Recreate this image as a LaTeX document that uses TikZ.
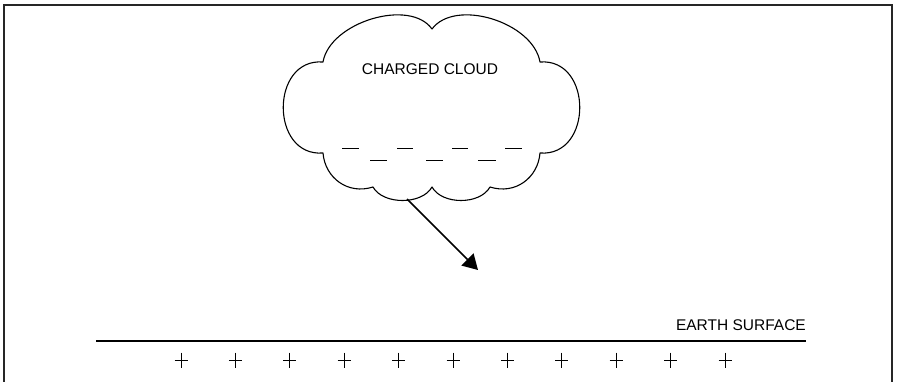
\documentclass[tikz,border=0pt]{standalone}
\usepackage{fontspec}
\setmainfont{Liberation Sans}
\usetikzlibrary{arrows.meta}
\begin{document}
\begin{tikzpicture}[x=1pt,y=-1pt,
  frame/.style={line width=1.3pt, draw=black!85},
  cloudline/.style={line width=1.1pt, line join=round},
  charge/.style={line width=1.5pt},
  label/.style={font=\fontsize{15.5}{18}\selectfont, inner sep=0pt},
  plussign/.style={line width=1pt},
  field/.style={line width=1.6pt, -{Triangle[length=15pt,width=17pt]}}]
\useasboundingbox (0,0) rectangle (897,382);

% open frame (bottom edge runs off the page)
\draw[frame] (4,382) -- (4,5) -- (892,5) -- (892,382);

% charged cloud outline
\draw[cloudline] (323,62)
  .. controls (330,22) and (410,-2) .. (432,29)
  .. controls (455,-2) and (533,22) .. (540,62)
  .. controls (593,58) and (593,157) .. (540,153)
  .. controls (538,178) and (515,195) .. (490,187)
  .. controls (480,205) and (442,205) .. (432,187)
  .. controls (422,205) and (383,205) .. (373,187)
  .. controls (348,195) and (325,178) .. (323,153)
  .. controls (270,157) and (270,58) .. cycle;
\coordinate (cloudbase) at (407,199);
\coordinate (fieldtip) at (478,270);

\node[label] (cloudlabel) at (430,69) {CHARGED CLOUD};

% negative charges near the cloud base
\foreach \a/\b in {342/359, 397/413, 452/468, 505/522}
  \draw[charge] (\a,148.3) -- (\b,148.3);
\foreach \a/\b in {370/387, 426/443, 478/496}
  \draw[charge] (\a,160.7) -- (\b,160.7);

% field direction towards the ground
\draw[field] (cloudbase) -- (fieldtip);

% earth surface
\coordinate (groundL) at (96,341);
\coordinate (groundR) at (806,341);
\draw[line width=1.2pt] (groundL) -- (groundR);
\node[label, anchor=base east] (earthlabel) at (806,330) {EARTH SURFACE};

% positive charges on the ground
\foreach \i in {0,...,10}
  \draw[plussign] ({181+54.4*\i-6.5},360) -- ({181+54.4*\i+6.5},360)
                  ({181+54.4*\i},352.5) -- ({181+54.4*\i},367.5);
\end{tikzpicture}
\end{document}
